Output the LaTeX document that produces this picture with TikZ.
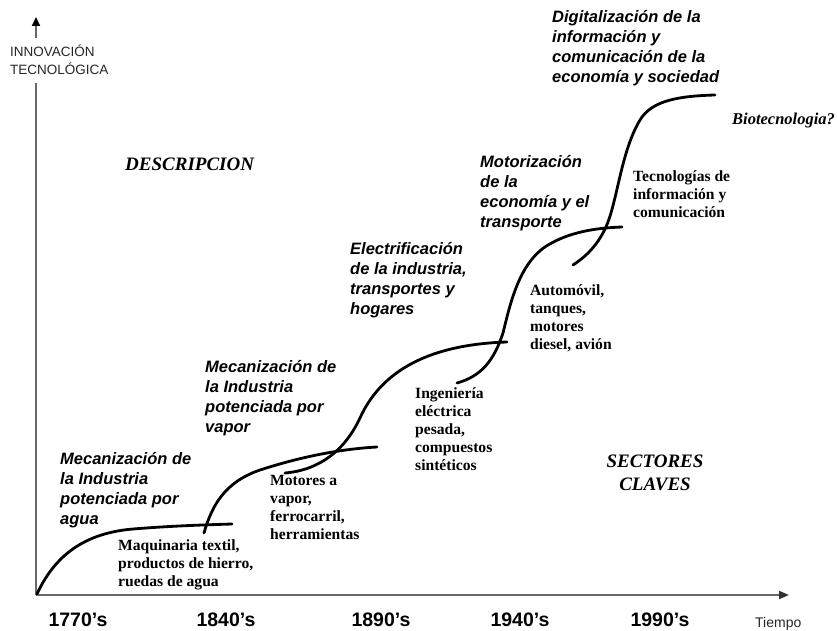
\documentclass[tikz,border=0pt]{standalone}
\usepackage{fontspec}
\setmainfont{Liberation Serif}
\setsansfont{Liberation Sans}
\usetikzlibrary{arrows.meta}
\definecolor{axisgray}{RGB}{105,105,105}
\begin{document}
\begin{tikzpicture}[x=1pt,y=-1pt,
  phase/.style={anchor=north west, inner sep=0pt, align=left,
    font=\sffamily\bfseries\itshape\fontsize{16.5}{20}\selectfont, execute at begin node=\strut},
  sector/.style={anchor=north west, inner sep=0pt, align=left,
    font=\rmfamily\bfseries\fontsize{15.6}{18}\selectfont, execute at begin node=\strut},
  heading/.style={inner sep=0pt, font=\rmfamily\bfseries\itshape\fontsize{19}{23}\selectfont},
  year/.style={anchor=base, inner sep=0pt, font=\sffamily\bfseries\fontsize{19.5}{24}\selectfont},
  axisline/.style={draw=axisgray, line width=1.8pt},
  wave/.style={line width=2.8pt, line cap=round, black}
]
\useasboundingbox (0,0) rectangle (837,631);

% axes
\coordinate (O) at (36,595);
\coordinate (ylow) at (36,83);
\coordinate (yhigh) at (36,38);
\coordinate (ytop) at (36,17);
\coordinate (xend) at (789,595);
\draw[axisline] (O) -- (ylow);
\draw[axisline, -{Triangle[length=9pt,width=8pt,color=black]}] (yhigh) -- (ytop);
\draw[axisline, -{Triangle[length=10pt,width=8pt,color=black!80]}] (O) -- (xend);

\node[anchor=north west, inner sep=0pt, align=left, text=black!85,
  font=\sffamily\fontsize{13.5}{18}\selectfont, execute at begin node=\strut]
  (ylab) at (10,44.4) {INNOVACIÓN\\TECNOLÓGICA};

% years
\node[year] (y1770) at (78,626) {1770’s};
\node[year] (y1840) at (226,626) {1840’s};
\node[year] (y1890) at (381,626) {1890’s};
\node[year] (y1940) at (520,626) {1940’s};
\node[year] (y1990) at (660,626) {1990’s};
\node[anchor=base west, inner sep=0pt, font=\sffamily\fontsize{14}{16}\selectfont, text=black!85]
  (tiempo) at (755,627) {Tiempo};

% waves
\draw[wave] (37,594) .. controls (55,555) and (85,533) .. (133,529)
            .. controls (170,526) and (200,525) .. (232,524);
\draw[wave] (204,533) .. controls (212,505) and (225,482) .. (260,470)
            .. controls (300,457) and (340,449) .. (377,447);
\draw[wave] (285,473) .. controls (320,470) and (345,450) .. (360,418)
            .. controls (375,385) and (410,345) .. (507,342);
\draw[wave] (457,383) .. controls (482,376) and (494,360) .. (503,333)
            .. controls (511,300) and (520,262) .. (548,245)
            .. controls (570,232) and (595,228) .. (622,227);
\draw[wave] (573,265) .. controls (590,254) and (601,240) .. (608,222)
            .. controls (618,195) and (622,150) .. (640,120)
            .. controls (652,100) and (680,96) .. (715,95);

% phase descriptions
\node[phase] (agua) at (60,452) {Mecanización de\\la Industria\\potenciada por\\agua};
\node[phase] (vapor) at (205,360) {Mecanización de\\la Industria\\potenciada por\\vapor};
\node[phase] (electr) at (350,242) {Electrificación\\de la industria,\\transportes y\\hogares};
\node[phase] (motor) at (480,155) {Motorización\\de la\\economía y el\\transporte};
\node[phase] (digital) at (552,10) {Digitalización de la\\información y\\comunicación de la\\economía y sociedad};

% key sectors
\node[sector] (maq) at (118,539) {Maquinaria textil,\\productos de hierro,\\ruedas de agua};
\node[sector] (motores) at (270,475) {Motores a\\vapor,\\ferrocarril,\\herramientas};
\node[sector] (ingen) at (415,387) {Ingeniería\\eléctrica\\pesada,\\compuestos\\sintéticos};
\node[sector] (auto) at (530,284) {Automóvil,\\tanques,\\motores\\diesel, avión};
\node[sector] (tecno) at (633,170) {Tecnologías de\\información y\\comunicación};

% headings
\node[heading, anchor=base west] (descr) at (125,171) {DESCRIPCION};
\node[heading, anchor=north, align=center, execute at begin node=\strut] (claves) at (655,455) {SECTORES\\CLAVES};
\node[heading, anchor=base west, font=\rmfamily\bfseries\itshape\fontsize{16.5}{20}\selectfont] (bio) at (732,125) {Biotecnologia?};
\end{tikzpicture}
\end{document}
